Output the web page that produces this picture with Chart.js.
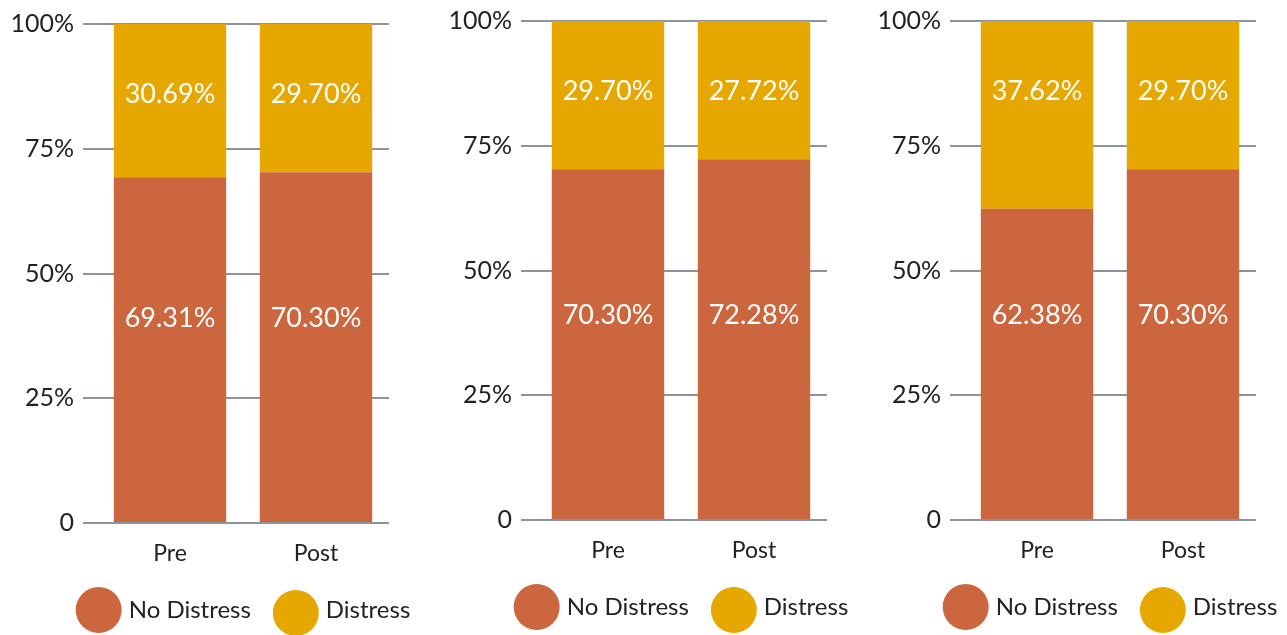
<!DOCTYPE html>
<html>
<head>
<meta charset="utf-8">
<script src="https://cdn.jsdelivr.net/npm/chart.js@4.4.1/dist/chart.umd.min.js"></script>
<style>
    html, body { margin: 0; padding: 0; background: #fff; overflow: hidden; }
    body { width: 1287px; height: 635px; position: relative; }
    .panel { position: absolute; width: 430px; height: 635px; }
</style>
</head>
<body>
<div class="panel" style="left:0px; top:3px;"><canvas id="chart1"></canvas></div>
<div class="panel" style="left:438px; top:0px;"><canvas id="chart2"></canvas></div>
<div class="panel" style="left:867px; top:0px;"><canvas id="chart3"></canvas></div>
<script>
const categories = ['Pre', 'Post']
const seriesNames = ['No Distress', 'Distress']
const tickLabels = ['0', '25%', '50%', '75%', '100%']

const noDistress1 = [69.31, 70.30]
const distress1 = [30.69, 29.70]
const noDistress2 = [70.30, 72.28]
const distress2 = [29.70, 27.72]
const noDistress3 = [62.38, 70.30]
const distress3 = [37.62, 29.70]

const colors = ['#cc663e', '#e6a800']
const fontFamily = 'Lato, "Open Sans", sans-serif'

// white value labels inside each stacked segment
const valueLabels = {
    id: 'valueLabels',
    afterDatasetsDraw(chart, args, opts) {
        const ctx = chart.ctx
        const y = chart.scales.y
        ctx.save()
        ctx.fillStyle = '#fff'
        ctx.font = '27px ' + fontFamily
        ctx.textAlign = 'center'
        ctx.textBaseline = 'middle'
        chart.data.datasets.forEach((ds, i) => {
            const meta = chart.getDatasetMeta(i)
            meta.data.forEach((bar, j) => {
                ctx.fillText(ds.data[j].toFixed(2) + '%', bar.x, y.getPixelForValue(opts.anchors[i]))
            })
        })
        ctx.restore()
    }
}

// round blob legend under the plot
const blobLegend = {
    id: 'blobLegend',
    afterDraw(chart) {
        const ctx = chart.ctx
        const area = chart.chartArea
        const r = 23, gap = 7, between = 22
        ctx.save()
        ctx.font = '24px ' + fontFamily
        ctx.textBaseline = 'middle'
        const items = chart.data.datasets.map(ds => ({ text: ds.label, color: ds.backgroundColor, w: ctx.measureText(ds.label).width }))
        let total = 0
        items.forEach((it, i) => { total += 2 * r + gap + it.w + (i ? between : 0) })
        let x = (area.left + area.right) / 2 - total / 2
        const cy = chart.height - 28
        items.forEach((it, i) => {
            if (i) x += between
            ctx.fillStyle = it.color
            ctx.beginPath()
            ctx.arc(x + r, cy + i * 3, r, 0, Math.PI * 2)
            ctx.fill()
            x += 2 * r + gap
            ctx.fillStyle = '#222'
            ctx.fillText(it.text, x, cy)
            x += it.w
        })
        ctx.restore()
    }
}

function makeChart(id, noDistress, distress) {
    const ctx = document.getElementById(id).getContext('2d')
    return new Chart(ctx, {
        type: 'bar',
        data: {
            labels: categories,
            datasets: [{
                label: seriesNames[0],
                data: noDistress,
                backgroundColor: colors[0],
                barPercentage: 0.77,
                categoryPercentage: 1
            }, {
                label: seriesNames[1],
                data: distress,
                backgroundColor: colors[1],
                barPercentage: 0.77,
                categoryPercentage: 1
            }]
        },
        plugins: [valueLabels, blobLegend],
        options: {
            responsive: true,
            maintainAspectRatio: false,
            animation: false,
            layout: {
                padding: { top: 21, right: 41, left: 0, bottom: 0 }
            },
            plugins: {
                legend: { display: false },
                tooltip: { enabled: false },
                valueLabels: { anchors: [41, 86] }
            },
            scales: {
                x: {
                    stacked: true,
                    grid: { display: false },
                    border: { display: false },
                    ticks: {
                        color: '#222',
                        padding: 9,
                        font: { family: fontFamily, size: 23 }
                    },
                    afterFit(scale) { scale.height = 115 }
                },
                y: {
                    stacked: true,
                    min: 0,
                    max: 100,
                    grid: {
                        color: '#8c939a',
                        lineWidth: 2,
                        tickLength: 14
                    },
                    border: { display: false },
                    ticks: {
                        stepSize: 25,
                        color: '#222',
                        padding: 9,
                        font: { family: fontFamily, size: 25 },
                        callback: function (value) {
                            return tickLabels[value / 25]
                        }
                    },
                    afterFit(scale) {
                        scale.width = 97
                        scale.paddingTop = 0
                        scale.paddingBottom = 0
                    }
                }
            }
        }
    })
}

makeChart('chart1', noDistress1, distress1)
makeChart('chart2', noDistress2, distress2)
makeChart('chart3', noDistress3, distress3)
</script>
</body>
</html>
